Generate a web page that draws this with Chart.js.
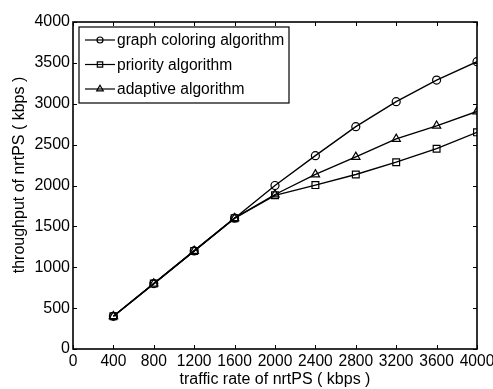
<!DOCTYPE html>
<html>
<head>
<meta charset="utf-8">
<script src="https://cdn.jsdelivr.net/npm/chart.js@4/dist/chart.umd.min.js"></script>
<style>
html,body{margin:0;padding:0;background:#fff;}
#wrap{width:493px;height:389px;position:relative;}
</style>
</head>
<body>
<div id="wrap"><canvas id="c" width="493" height="389"></canvas></div>
<script>
const trafficRates = [400, 800, 1200, 1600, 2000, 2400, 2800, 3200, 3600, 4000];
const graphColoring = [400, 800, 1200, 1600, 2000, 2365, 2720, 3025, 3290, 3515];
const priority = [400, 800, 1200, 1600, 1880, 2005, 2135, 2285, 2450, 2650];
const adaptive = [400, 800, 1200, 1600, 1890, 2135, 2350, 2570, 2730, 2905];
const seriesNames = ['graph coloring algorithm', 'priority algorithm', 'adaptive algorithm'];
const xTickValues = [0, 400, 800, 1200, 1600, 2000, 2400, 2800, 3200, 3600, 4000];
const yTickValues = [0, 500, 1000, 1500, 2000, 2500, 3000, 3500, 4000];
const xTitle = 'traffic rate of nrtPS ( kbps )';
const yTitle = 'throughput of nrtPS ( kbps )';

const FONT = 'Liberation Sans, Arial, sans-serif';

function pts(arr){ return trafficRates.map((x,i)=>({x:x,y:arr[i]})); }

const common = {borderColor:'#000', backgroundColor:'rgba(0,0,0,0)', borderWidth:1.4, pointBorderWidth:1.2, pointBorderColor:'#000', pointBackgroundColor:'rgba(0,0,0,0)', tension:0};

const frameTicks = {
  id:'frameTicks',
  afterDatasetsDraw(chart){
    const {ctx, chartArea:a, scales} = chart;
    ctx.save();
    ctx.strokeStyle='#000';
    ctx.lineWidth=1;
    const L=4;
    scales.x.ticks.forEach(t=>{
      const px=Math.round(scales.x.getPixelForValue(t.value))+0.5;
      ctx.beginPath();ctx.moveTo(px,a.bottom);ctx.lineTo(px,a.bottom-L);ctx.stroke();
      ctx.beginPath();ctx.moveTo(px,a.top);ctx.lineTo(px,a.top+L);ctx.stroke();
    });
    scales.y.ticks.forEach(t=>{
      const py=Math.round(scales.y.getPixelForValue(t.value))+0.5;
      ctx.beginPath();ctx.moveTo(a.left,py);ctx.lineTo(a.left+L,py);ctx.stroke();
      ctx.beginPath();ctx.moveTo(a.right,py);ctx.lineTo(a.right-L,py);ctx.stroke();
    });
    ctx.lineWidth=1.6;
    ctx.strokeRect(a.left,a.top,a.right-a.left,a.bottom-a.top);
    // y axis title
    ctx.save();
    ctx.translate(20,175);
    ctx.rotate(-Math.PI/2);
    ctx.font='16px '+FONT;
    ctx.fillStyle='#000';
    ctx.textAlign='center';
    ctx.textBaseline='middle';
    ctx.fillText(yTitle,0,0);
    ctx.restore();
    // legend
    const lx=a.left+6, ly=a.top+5, lw=210, lh=76;
    ctx.fillStyle='#fff';
    ctx.fillRect(lx,ly,lw,lh);
    ctx.lineWidth=1.2;
    ctx.strokeRect(lx,ly,lw,lh);
    ctx.font='15.6px '+FONT;
    ctx.textBaseline='middle';
    ctx.textAlign='left';
    chart.data.datasets.forEach((ds,i)=>{
      const cy=ly+13+i*24.5;
      ctx.strokeStyle='#000';ctx.lineWidth=1.2;
      ctx.beginPath();ctx.moveTo(lx+6,cy);ctx.lineTo(lx+36,cy);ctx.stroke();
      ctx.fillStyle='rgba(0,0,0,0)';
      Chart.helpers.drawPoint(ctx,{pointStyle:ds.pointStyle,radius:ds.pointRadius-1,borderWidth:1},lx+21,cy);
      ctx.fillStyle='#000';
      ctx.fillText(ds.label,lx+38,cy+1);
    });
    ctx.restore();
  }
};

new Chart(document.getElementById('c'),{
  type:'line',
  data:{datasets:[
    Object.assign({label:seriesNames[0],data:pts(graphColoring),pointStyle:'circle',pointRadius:4},common),
    Object.assign({label:seriesNames[1],data:pts(priority),pointStyle:'rect',pointRadius:4.8},common),
    Object.assign({label:seriesNames[2],data:pts(adaptive),pointStyle:'triangle',pointRadius:4.8},common)
  ]},
  options:{
    responsive:false,animation:false,
    layout:{padding:{left:0,right:16,top:22,bottom:0}},
    plugins:{legend:{display:false},tooltip:{enabled:false}},
    scales:{
      x:{type:'linear',min:0,max:4000,
        afterBuildTicks(s){s.ticks=xTickValues.map(v=>({value:v}));},
        afterFit(s){s.height=40;s.paddingLeft=0;s.paddingRight=0;},
        grid:{display:false,drawTicks:false},border:{display:false},
        ticks:{color:'#000',padding:3,font:{family:FONT,size:15.6},maxRotation:0,autoSkip:false,callback:v=>String(v)},
        title:{display:true,text:xTitle,color:'#000',font:{family:FONT,size:16},padding:{top:0,bottom:0}}
      },
      y:{min:0,max:4000,
        afterBuildTicks(s){s.ticks=yTickValues.map(v=>({value:v}));},
        afterFit(s){s.width=73;s.paddingTop=0;s.paddingBottom=0;},
        grid:{display:false,drawTicks:false},border:{display:false},
        ticks:{color:'#000',padding:3,font:{family:FONT,size:16},autoSkip:false,callback:v=>String(v)},
        title:{display:false,text:yTitle}
      }
    }
  },
  plugins:[frameTicks]
});
</script>
</body>
</html>
